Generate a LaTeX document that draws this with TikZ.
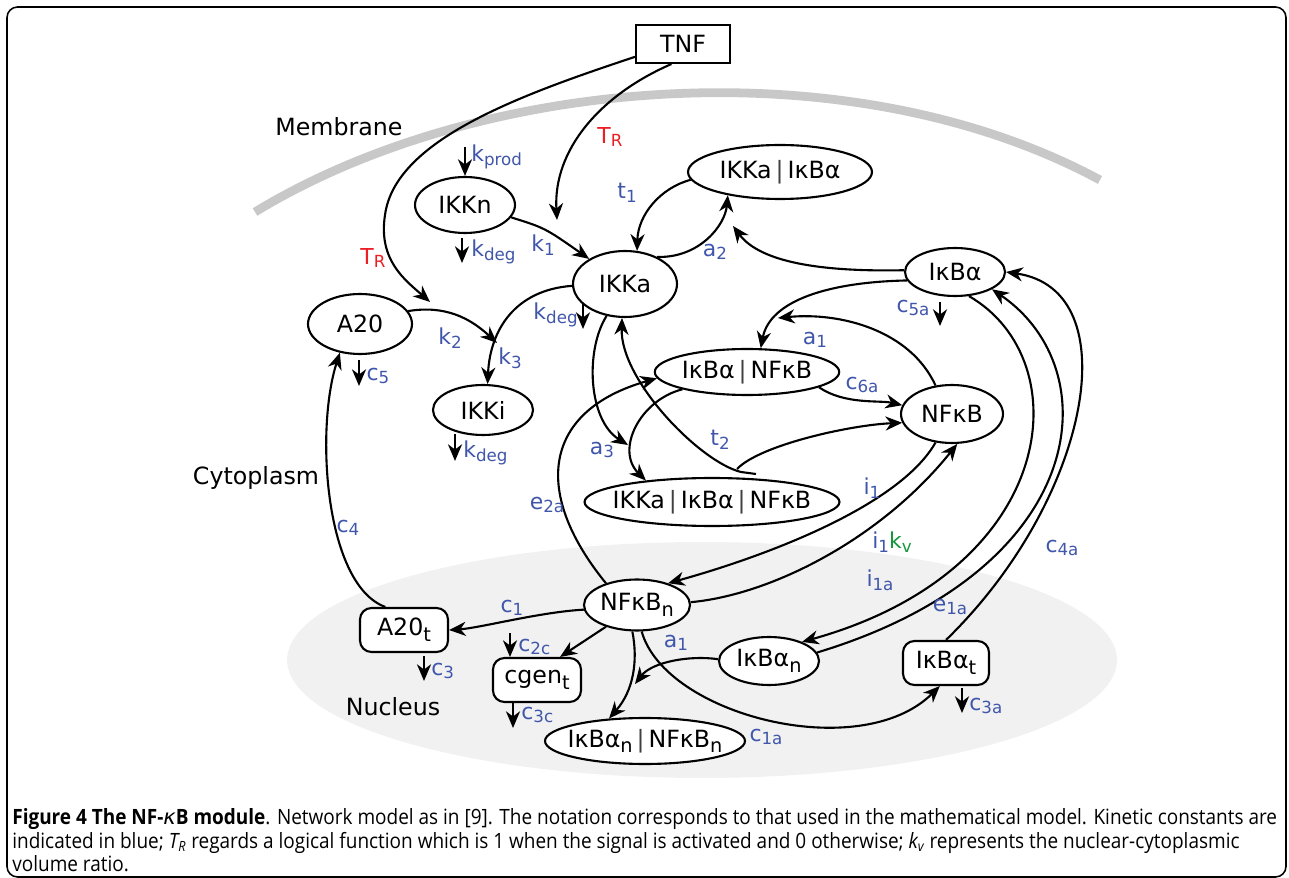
\documentclass[tikz,border=0pt]{standalone}
\usepackage{fontspec}
\usepackage{graphicx}
\setmainfont{DejaVu Sans}
\newfontfamily\capfont[FakeStretch=0.9]{Open Sans}
\usetikzlibrary{shapes.geometric,arrows.meta,calc}
\definecolor{kblue}{RGB}{64,86,170}
\definecolor{kred}{RGB}{235,30,35}
\definecolor{kgreen}{RGB}{20,150,60}
\definecolor{memgray}{RGB}{200,200,200}
\definecolor{nucgray}{RGB}{241,241,241}
\newcommand\nfont{\fontsize{13.5}{15}\selectfont}
\newcommand\lfont{\fontsize{12.5}{13}\selectfont}
\newcommand\nsb[1]{\raisebox{-0.45ex}{\fontsize{11}{11}\selectfont #1}}
\newcommand\lsb[1]{\raisebox{-0.3ex}{\fontsize{9.5}{9.5}\selectfont #1}}
\newcommand\vbr{\,\textcolor{black!75}{|}\,}
\tikzset{
  ell/.style={ellipse, draw, line width=1.2pt, inner sep=0pt, fill=white, font=\nfont},
  rbx/.style={rectangle, rounded corners=6.5pt, draw, line width=1.2pt, inner sep=0pt, fill=white, font=\nfont},
  arr/.style={line width=1.2pt, -{Stealth[length=9.5pt,width=8pt,inset=3pt]}},
  lbl/.style={text=kblue, font=\lfont, inner sep=0pt},
  rlbl/.style={text=kred, font=\lfont, inner sep=0pt},
  txt/.style={font=\nfont, inner sep=0pt},
  captxt/.style={anchor=base west, inner sep=0pt, font=\capfont\fontsize{12}{14}\selectfont},
}
\begin{document}
\begin{tikzpicture}[x=0.02cm,y=-0.02cm]
\useasboundingbox (0,0) rectangle (1289,878);
% frame
\draw[line width=0.9pt, rounded corners=6pt] (7,7) rectangle (1286,877);
% nucleus and membrane
\fill[nucgray] (702,660) ellipse [x radius=8.3cm, y radius=2.36cm];
\draw[memgray, line width=5pt] (255,212) .. controls (480,75) and (850,45) .. (1100,180);
\node[txt] (memb) at (339,127) {Membrane};
\node[txt] (cyto) at (256,478) {Cytoplasm};
\node[txt] (nucl) at (393,707) {Nucleus};

% nodes
\node[rectangle,draw,line width=1.2pt,minimum width=1.88cm,minimum height=0.76cm,inner sep=0pt,fill=white,font=\nfont] (TNF) at (683,44) {TNF};
\node[ell,minimum width=3.68cm,minimum height=1.08cm] (IKKaIkB) at (780,172) {IKKa\vbr IκBα};
\node[ell,minimum width=2.0cm,minimum height=1.12cm] (IKKn) at (465,205) {IKKn};
\node[ell,minimum width=2.08cm,minimum height=1.32cm] (IKKa) at (625,284) {IKKa};
\node[ell,minimum width=2.0cm,minimum height=0.96cm] (IkB) at (955,272) {IκBα};
\node[ell,minimum width=2.08cm,minimum height=1.2cm] (A20) at (360,324) {A20};
\node[ell,minimum width=3.48cm,minimum height=0.92cm] (IkBNF) at (747,372) {IκBα\vbr NFκB};
\node[ell,minimum width=2.04cm,minimum height=1.16cm] (NFkB) at (952,414) {NFκB};
\node[ell,minimum width=2.0cm,minimum height=1.0cm] (IKKi) at (483,410) {IKKi};
\node[ell,inner xsep=-8pt,minimum width=5.1cm,minimum height=0.96cm] (IKKIkNF) at (712,502) {IKKa\vbr IκBα\vbr NFκB};
\node[ell,minimum width=2.12cm,minimum height=1.02cm] (NFkBn) at (637,605) {NFκB\nsb{n}};
\node[ell,minimum width=2.0cm,minimum height=0.96cm] (IkBn) at (769,661) {IκBα\nsb{n}};
\node[ell,inner xsep=-8pt,minimum width=4.0cm,minimum height=0.92cm] (IkBnNF) at (645,741) {IκBα\nsb{n}\vbr NFκB\nsb{n}};
\node[rbx,minimum width=1.76cm,minimum height=0.88cm] (A20t) at (404,630) {A20\nsb{t}};
\node[rbx,minimum width=1.76cm,minimum height=0.88cm] (cgent) at (537,680) {cgen\nsb{t}};
\node[rbx,minimum width=1.72cm,minimum height=0.88cm] (IkBt) at (946,663) {IκBα\nsb{t}};

% free coordinates
\coordinate (trA) at (557,220);
\coordinate (trB) at (430,302);
\coordinate (kp) at (465,147);
\coordinate (a2j) at (733,226);
\coordinate (a1j) at (778,318);
\coordinate (k23) at (497,343);
\coordinate (a3j) at (628,445);
\coordinate (t2t) at (756,474);
\coordinate (t2j) at (741,472);
\coordinate (t2k) at (737,469);
\coordinate (a1n) at (635,684);

% TNF signals
\draw[arr] (TNF.-120) .. controls (600,95) and (553,150) .. (trA);
\draw[arr] (TNF.195) .. controls (520,95) and (395,140) .. (385,215) .. controls (378,260) and (405,280) .. (trB);
% IKKn
\draw[arr] (kp) -- (IKKn.north);
\draw[arr] (IKKn.-15) .. controls (545,228) .. (IKKa.145);
% IKKa <-> IKKa|IkBa
\draw[arr] (IKKaIkB.185) .. controls (660,188) and (638,215) .. (IKKa.70);
\draw[arr] (IKKa.40) .. controls (700,258) and (725,225) .. (IKKaIkB.204);
\draw[arr] (IkB.178) .. controls (820,272) and (760,262) .. (a2j);
% IkBa -> IkBa|NFkB
\draw[arr] (IkB.190) .. controls (830,282) and (770,300) .. (IkBNF.60);
\draw[arr] (NFkB.120) .. controls (910,330) and (840,312) .. (a1j);
\draw[arr] (IkBNF.-12) .. controls (845,405) and (880,400) .. (NFkB.170);
% IKKa -> IKKi, A20 -> IKKi
\draw[arr] (IKKa.182) .. controls (515,290) and (490,330) .. (IKKi.80);
\draw[arr] (A20.15) .. controls (445,305) and (470,318) .. (k23);
% a3
\draw[arr] (IKKa.-120) .. controls (585,350) and (588,420) .. (a3j);
\draw[arr] (IkBNF.-165) .. controls (640,400) and (615,450) .. (IKKIkNF.162);
% t2
\draw[arr] (t2t) -- (t2j) .. controls (700,462) and (620,380) .. (IKKa.-95);
\draw[arr] (t2k) .. controls (760,445) and (850,425) .. (NFkB.190);
% e2a
\draw[arr] (NFkBn.145) .. controls (530,490) and (545,410) .. (IkBNF.184);
% i1, i1kv
\draw[arr] (NFkB.-120) .. controls (900,505) and (770,555) .. (NFkBn.35);
\draw[arr] (NFkBn.3) .. controls (770,595) and (880,540) .. (NFkB.-80);
% IkBa shuttling
\draw[arr] (IkB.-60) .. controls (1080,360) and (1060,570) .. (IkBn.30);
\draw[arr] (IkBn.10) .. controls (1090,570) and (1110,370) .. (IkB.-25);
\draw[arr] (IkBt.north) .. controls (1090,500) and (1130,290) .. (IkB.0);
% nucleus
\draw[arr] (NFkBn.185) .. controls (540,612) and (480,628) .. (A20t.east);
\draw[arr] (NFkBn.-145) -- (cgent.45);
\draw[arr] (A20t.129) .. controls (325,585) and (315,430) .. (A20.-125);
\draw[arr] (NFkBn.-100) .. controls (638,660) and (634,690) .. (IkBnNF.148);
\draw[arr] (IkBn.178) .. controls (690,655) and (652,662) .. (a1n);
\draw[arr] (NFkBn.-80) .. controls (665,715) and (860,765) .. (IkBt.-105);

% decay / production arrows
\coordinate (d1s) at (462,238); \coordinate (d1e) at (462,263);
\coordinate (d2s) at (583,303); \coordinate (d2e) at (583,329);
\coordinate (d3s) at (359,360); \coordinate (d3e) at (359,386);
\coordinate (d4s) at (455,434); \coordinate (d4e) at (455,461);
\coordinate (d5s) at (940,302); \coordinate (d5e) at (940,326);
\coordinate (d6s) at (510,633); \coordinate (d6e) at (510,657);
\coordinate (d7s) at (513,703); \coordinate (d7e) at (513,728);
\coordinate (d8s) at (424,656); \coordinate (d8e) at (424,681);
\coordinate (d9s) at (962,688); \coordinate (d9e) at (962,713);
\foreach \i in {1,...,9} {\draw[arr] (d\i s) -- (d\i e);}

% labels
\node[rlbl] (ltr1) at (610,137) {T\lsb{R}};
\node[rlbl] (ltr2) at (373,258) {T\lsb{R}};
\node[lbl,anchor=west] (lkprod) at (471,157) {k\lsb{prod}};
\node[lbl,anchor=west] (lkdeg1) at (471,252) {k\lsb{deg}};
\node[lbl] (lk1) at (543,245) {k\lsb{1}};
\node[lbl] (lt1) at (627,193) {t\lsb{1}};
\node[lbl] (la2) at (715,252) {a\lsb{2}};
\node[lbl,anchor=east] (lkdeg2) at (578,315) {k\lsb{deg}};
\node[lbl] (lc5a) at (913,308) {c\lsb{5a}};
\node[lbl] (la1) at (815,340) {a\lsb{1}};
\node[lbl] (lk2) at (450,338) {k\lsb{2}};
\node[lbl] (lk3) at (510,358) {k\lsb{3}};
\node[lbl] (lc5) at (378,376) {c\lsb{5}};
\node[lbl] (lc6a) at (862,385) {c\lsb{6a}};
\node[lbl,anchor=west] (lkdeg3) at (463,453) {k\lsb{deg}};
\node[lbl] (la3) at (602,450) {a\lsb{3}};
\node[lbl] (lt2) at (720,440) {t\lsb{2}};
\node[lbl] (li1) at (872,488) {i\lsb{1}};
\node[lbl] (le2a) at (547,505) {e\lsb{2a}};
\node[lbl] (lc4) at (348,528) {c\lsb{4}};
\node[lbl] (li1kv) at (892,542) {i\lsb{1}\textcolor{kgreen}{k\lsb{v}}};
\node[lbl] (lc4a) at (1062,548) {c\lsb{4a}};
\node[lbl] (li1a) at (880,580) {i\lsb{1a}};
\node[lbl] (le1a) at (950,607) {e\lsb{1a}};
\node[lbl] (lc1) at (512,608) {c\lsb{1}};
\node[lbl,anchor=west] (lc2c) at (518,647) {c\lsb{2c}};
\node[lbl] (la1n) at (676,643) {a\lsb{1}};
\node[lbl,anchor=west] (lc3) at (431,671) {c\lsb{3}};
\node[lbl,anchor=west] (lc3a) at (969,706) {c\lsb{3a}};
\node[lbl,anchor=west] (lc3c) at (521,715) {c\lsb{3c}};
\node[lbl] (lc1a) at (766,737) {c\lsb{1a}};

% caption
\node[captxt] (cap1) at (12,824)
 {\textbf{Figure 4 The NF-{\normalfont\itshape κ}B module}. Network model as in [9]. The notation corresponds to that used in the mathematical model. Kinetic constants are};
\node[captxt] (cap2) at (12,848)
 {indicated in blue; \textit{T\textsubscript{R}} regards a logical function which is 1 when the signal is activated and 0 otherwise; \textit{k\textsubscript{v}} represents the nuclear-cytoplasmic};
\node[captxt] (cap3) at (12,871)
 {volume ratio.};
\end{tikzpicture}
\end{document}
